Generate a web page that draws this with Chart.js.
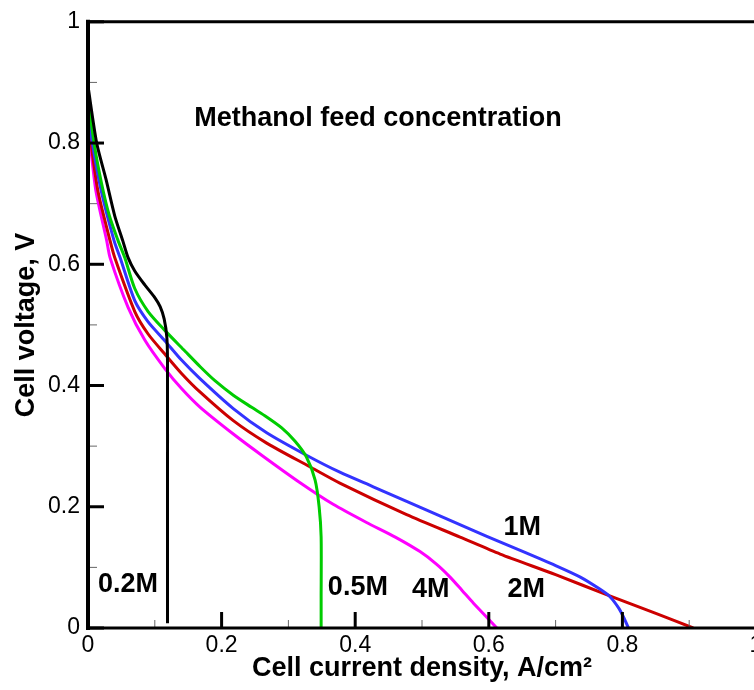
<!DOCTYPE html>
<html>
<head>
<meta charset="utf-8">
<script src="https://cdn.jsdelivr.net/npm/chart.js@4.4.1/dist/chart.umd.min.js"></script>
<style>
    html, body { margin: 0; padding: 0; background: #ffffff; overflow: hidden; }
    #wrap { width: 770px; height: 690px; }
</style>
</head>
<body>
<div id="wrap"><canvas id="polChart" width="770" height="690"></canvas></div>
<script>
// Polarization curves: cell current density (A/cm2) vs cell voltage (V)
const seriesNames = ['0.2M', '0.5M', '1M', '2M', '4M'];
const seriesColors = ['#000000', '#00cc00', '#3333ff', '#cc0000', '#ff00ff'];

const m02Current = [0, 0.013, 0.027, 0.040, 0.052, 0.060, 0.070, 0.085, 0.100, 0.108, 0.114, 0.118, 0.119, 0.119, 0.119];
const m02Voltage = [0.894, 0.800, 0.740, 0.680, 0.639, 0.611, 0.589, 0.566, 0.545, 0.530, 0.510, 0.480, 0.440, 0.200, 0.008];

const m05Current = [0, 0.009, 0.020, 0.032, 0.045, 0.055, 0.070, 0.090, 0.115, 0.145, 0.168, 0.190, 0.2175, 0.245, 0.2675, 0.290, 0.310, 0.327, 0.340, 0.346, 0.349, 0.349, 0.349];
const m05Voltage = [0.875, 0.800, 0.735, 0.680, 0.639, 0.611, 0.560, 0.522, 0.491, 0.457, 0.431, 0.408, 0.384, 0.364, 0.348, 0.330, 0.308, 0.282, 0.244, 0.200, 0.150, 0.050, 0.0];

const m1Current = [0, 0.0065, 0.020, 0.039, 0.048, 0.070, 0.090, 0.115, 0.140, 0.168, 0.2175, 0.2675, 0.327, 0.377, 0.427, 0.477, 0.537, 0.597, 0.647, 0.700, 0.737, 0.765, 0.781, 0.795, 0.803, 0.809];
const m1Voltage = [0.860, 0.800, 0.720, 0.639, 0.611, 0.540, 0.505, 0.474, 0.442, 0.411, 0.362, 0.322, 0.285, 0.257, 0.233, 0.209, 0.180, 0.151, 0.128, 0.103, 0.084, 0.065, 0.052, 0.032, 0.015, 0.0];

const m2Current = [0, 0.0045, 0.015, 0.033, 0.040, 0.070, 0.090, 0.115, 0.140, 0.168, 0.2175, 0.2675, 0.332, 0.377, 0.477, 0.557, 0.617, 0.700, 0.781, 0.850, 0.906];
const m2Voltage = [0.840, 0.800, 0.720, 0.639, 0.611, 0.522, 0.485, 0.452, 0.420, 0.389, 0.342, 0.305, 0.266, 0.239, 0.187, 0.150, 0.122, 0.088, 0.053, 0.024, 0.0];

const m4Current = [0, 0.003, 0.012, 0.028, 0.033, 0.060, 0.085, 0.115, 0.140, 0.168, 0.2175, 0.260, 0.317, 0.367, 0.417, 0.460, 0.497, 0.522, 0.542, 0.560, 0.577, 0.612];
const m4Voltage = [0.815, 0.800, 0.720, 0.639, 0.611, 0.529, 0.475, 0.428, 0.395, 0.364, 0.320, 0.285, 0.240, 0.204, 0.174, 0.150, 0.126, 0.105, 0.084, 0.062, 0.041, 0.0];

const currentSeries = [m02Current, m05Current, m1Current, m2Current, m4Current];
const voltageSeries = [m02Voltage, m05Voltage, m1Voltage, m2Voltage, m4Voltage];

const xTicks = [0, 0.2, 0.4, 0.6, 0.8, 1];
const yTicks = [0, 0.2, 0.4, 0.6, 0.8, 1];

const plotTitle = 'Methanol feed concentration';

const FONT = "'Liberation Sans', Arial, Helvetica, sans-serif";

// text annotations placed in data units
const annotations = [
    { text: plotTitle, x: 0.434, y: 0.841 },
    { text: '0.2M', x: 0.060, y: 0.071 },
    { text: '0.5M', x: 0.404, y: 0.066 },
    { text: '4M', x: 0.513, y: 0.063 },
    { text: '2M', x: 0.656, y: 0.063 },
    { text: '1M', x: 0.650, y: 0.166 }
];

// axis frame with inward ticks, plus the text labels
const framePlugin = {
    id: 'frame',
    afterDatasetsDraw(chart) {
        const { ctx, chartArea, scales } = chart;
        const xs = scales.x, ys = scales.y;
        const left = chartArea.left, bottom = chartArea.bottom, top = chartArea.top, right = chartArea.right;
        ctx.save();
        ctx.lineCap = 'butt';

        // minor ticks
        ctx.lineWidth = 1;
        ctx.strokeStyle = '#666';
        for (let i = 1; i < 10; i += 2) {
            const v = i / 10;
            const px = xs.getPixelForValue(v);
            ctx.beginPath(); ctx.moveTo(px, bottom); ctx.lineTo(px, bottom - 8); ctx.stroke();
            const py = ys.getPixelForValue(v);
            ctx.beginPath(); ctx.moveTo(left, py); ctx.lineTo(left + 9, py); ctx.stroke();
        }

        // major ticks
        ctx.strokeStyle = '#000';
        ctx.lineWidth = 3;
        xTicks.forEach(v => {
            const px = xs.getPixelForValue(v);
            ctx.beginPath(); ctx.moveTo(px, bottom); ctx.lineTo(px, bottom - 16); ctx.stroke();
        });
        yTicks.forEach(v => {
            const py = ys.getPixelForValue(v);
            ctx.beginPath(); ctx.moveTo(left, py); ctx.lineTo(left + 16, py); ctx.stroke();
        });

        // frame lines
        ctx.lineWidth = 4;
        ctx.beginPath(); ctx.moveTo(left, top - 2); ctx.lineTo(left, bottom + 2); ctx.stroke();
        ctx.lineWidth = 3;
        ctx.beginPath(); ctx.moveTo(left, bottom); ctx.lineTo(right + 2, bottom); ctx.stroke();
        ctx.beginPath(); ctx.moveTo(left, top); ctx.lineTo(right, top); ctx.lineTo(right, bottom); ctx.stroke();

        // labels
        ctx.fillStyle = '#000';
        ctx.font = 'bold 27px ' + FONT;
        ctx.textAlign = 'center';
        ctx.textBaseline = 'middle';
        annotations.forEach(a => {
            ctx.fillText(a.text, xs.getPixelForValue(a.x), ys.getPixelForValue(a.y));
        });
        ctx.restore();
    }
};

const datasets = seriesNames.map((name, i) => ({
    label: name,
    data: currentSeries[i].map((x, j) => ({ x: x, y: voltageSeries[i][j] })),
    borderColor: seriesColors[i],
    backgroundColor: seriesColors[i],
    borderWidth: 3,
    pointRadius: 0,
    showLine: true,
    fill: false,
    tension: 0.25
}));

const tickLabel = v => Number(v.toFixed(1)).toString();

new Chart(document.getElementById('polChart'), {
    type: 'scatter',
    data: { datasets: datasets },
    plugins: [framePlugin],
    options: {
        responsive: false,
        animation: false,
        devicePixelRatio: 1,
        layout: { padding: { left: 0, top: 20, right: 14, bottom: 0 } },
        plugins: {
            legend: { display: false },
            tooltip: { enabled: false }
        },
        scales: {
            x: {
                type: 'linear',
                min: 0,
                max: 1,
                afterFit(scale) { scale.height = 62; },
                afterBuildTicks(scale) { scale.ticks = xTicks.map(v => ({ value: v })); },
                grid: { display: false, drawTicks: false },
                border: { display: false },
                ticks: {
                    padding: 4,
                    color: '#000',
                    font: { family: FONT, size: 23 },
                    maxRotation: 0,
                    callback: tickLabel
                },
                title: {
                    display: true,
                    text: 'Cell current density, A/cm²',
                    color: '#000',
                    font: { family: FONT, size: 27, weight: 'bold' },
                    padding: { top: 0, bottom: 5 }
                }
            },
            y: {
                type: 'linear',
                min: 0,
                max: 1,
                afterFit(scale) { scale.width = 88; },
                afterBuildTicks(scale) { scale.ticks = yTicks.map(v => ({ value: v })); },
                grid: { display: false, drawTicks: false },
                border: { display: false },
                ticks: {
                    padding: 8,
                    color: '#000',
                    font: { family: FONT, size: 23 },
                    callback: tickLabel
                },
                title: {
                    display: true,
                    text: 'Cell voltage, V',
                    color: '#000',
                    font: { family: FONT, size: 27, weight: 'bold' },
                    padding: { top: 10, bottom: 0 }
                }
            }
        }
    }
});
</script>
</body>
</html>
